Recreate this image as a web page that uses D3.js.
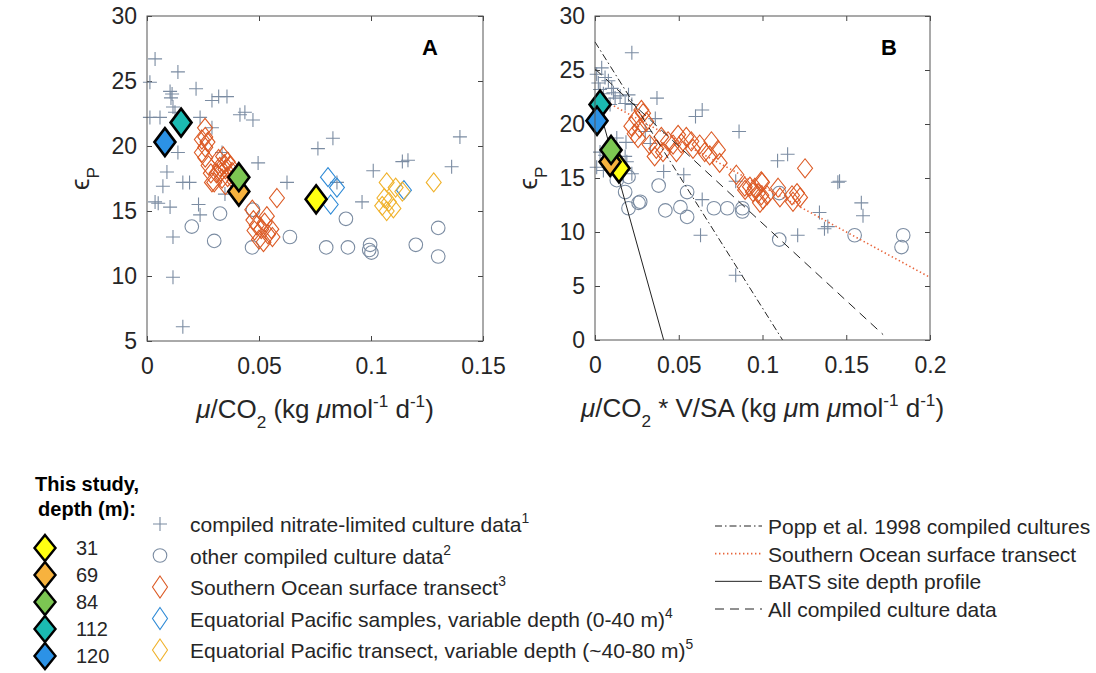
<!DOCTYPE html>
<meta charset="utf-8">
<style>
  body { margin: 0; background: #fff; }
  svg text { font-family: Arial, "Liberation Sans", Helvetica, sans-serif; fill: #262626; }
  .tick text { font-size: 23px; fill: #262626; }
  .tick line { stroke: #444; }
</style>
<script src="https://cdn.jsdelivr.net/npm/d3@7"></script>
<div id="chart"></div>
<script>

// ---- data ----

// panel A: mu/CO2 vs eps_p
var crossA = [[0.0036,26.7],[0.0138,25.7],[0.0013,24.9],[0.0103,24.2],[0.0112,24.0],[0.0107,23.7],
  [0.0116,23.0],[0.0125,22.6],[0.0219,24.4],[0.029,23.5],[0.032,23.8],[0.0357,23.8],[0.0415,22.4],
  [0.0437,22.6],[0.0473,22.0],[0.0013,22.2],[0.0058,22.2],[0.0237,22.2],[0.029,21.4],[0.0138,19.5],
  [0.0089,18.0],[0.0071,16.9],[0.016,17.2],[0.019,17.2],[0.0036,15.7],[0.005,15.6],[0.0103,15.3],
  [0.023,15.5],[0.0237,14.7],[0.0116,13.0],[0.0116,9.9],[0.016,6.1],[0.0348,16.3],[0.0496,18.7],
  [0.0625,17.2],[0.0763,19.8],[0.083,20.6],[0.0848,17.2],[0.096,15.7],[0.101,18.1],[0.114,18.8],
  [0.1165,18.9],[0.136,18.4],[0.1397,20.7],[0.0335,19.5]];
var circleA = [[0.020,13.8],[0.0326,14.8],[0.030,12.7],[0.0473,15.1],[0.0469,12.2],[0.0638,13.0],
  [0.080,12.2],[0.0888,14.4],[0.0897,12.2],[0.0996,12.4],[0.0992,12.0],[0.1002,11.8],[0.120,12.4],
  [0.130,13.7],[0.130,11.5]];
var southernA = [[0.0259,21.4],[0.026,20.7],[0.0245,20.5],[0.027,20.3],[0.026,19.9],[0.0245,19.5],
  [0.026,19.1],[0.0275,18.5],[0.0285,17.9],[0.029,17.2],[0.032,19.0],[0.034,19.2],[0.0325,18.4],
  [0.0345,18.6],[0.036,18.8],[0.031,17.9],[0.033,18.0],[0.035,18.2],[0.037,18.5],[0.0335,17.5],
  [0.036,17.6],[0.038,18.0],[0.030,17.2],[0.039,17.3],[0.035,17.0],[0.047,15.1],[0.0475,14.3],
  [0.049,13.9],[0.051,13.6],[0.0525,14.1],[0.048,13.5],[0.050,12.8],[0.054,13.2],[0.0555,13.6],
  [0.056,13.0],[0.052,12.6],[0.0535,14.6],[0.058,16.0]];
var eqSamplesA = [[0.0808,17.6],[0.0848,16.8],[0.082,15.5],[0.1147,16.6]];
var eqTransectA = [[0.107,17.2],[0.111,16.8],[0.114,16.5],[0.106,16.0],[0.108,15.7],[0.105,15.4],
  [0.107,15.0],[0.110,15.2],[0.128,17.2]];

// panel B: mu/CO2 * V/SA vs eps_p
var crossB = [[0.022,26.6],[0.001,24.6],[0.004,25.2],[0.006,24.3],[0.002,23.8],[0.008,24.0],
  [0.010,23.3],[0.005,22.8],[0.012,22.4],[0.003,23.2],[0.015,22.6],[0.009,21.8],[0.018,21.9],
  [0.022,21.8],[0.011,22.9],[0.020,22.7],[0.037,22.4],[0.036,20.5],[0.060,20.7],[0.064,21.3],
  [0.086,19.3],[0.109,16.6],[0.115,17.2],[0.145,14.6],[0.146,14.7],[0.159,12.7],[0.160,11.5],
  [0.134,11.8],[0.139,10.5],[0.137,10.3],[0.121,9.7],[0.063,9.7],[0.084,6.0],[0.041,15.6],
  [0.053,15.3],[0.064,13.0],[0.084,14.7],[0.003,17.4],[0.006,17.1],[0.001,16.0],[0.005,15.7],
  [0.018,17.0],[0.019,16.5],[0.015,16.0],[0.022,15.4],[0.033,18.2],[0.013,18.7],[0.030,19.3],
  [0.0185,18.3]];
var circleB = [[0.013,14.8],[0.020,15.1],[0.018,13.7],[0.020,12.2],[0.026,12.7],[0.027,12.8],
  [0.038,14.3],[0.042,12.0],[0.051,12.3],[0.055,11.4],[0.055,13.7],[0.071,12.2],[0.079,12.2],
  [0.088,12.2],[0.088,11.9],[0.110,13.6],[0.110,9.3],[0.155,9.7],[0.184,9.7],[0.183,8.6]];
var southernB = [[0.0277,21.3],[0.0247,20.5],[0.0217,19.8],[0.0237,19.1],[0.0267,19.6],[0.0306,20.2],
  [0.0287,21.0],[0.0257,18.7],[0.0326,18.1],[0.0366,17.7],[0.0356,17.0],[0.0406,17.4],[0.0436,18.4],
  [0.0466,18.1],[0.0496,19.0],[0.0515,18.2],[0.0545,18.8],[0.0575,18.4],[0.0585,17.7],[0.0625,18.1],
  [0.0655,17.4],[0.0695,18.4],[0.0685,17.1],[0.0734,17.6],[0.0744,16.4],[0.0396,18.8],[0.0486,17.4],
  [0.0844,15.3],[0.0894,14.2],[0.0943,13.7],[0.0993,14.7],[0.0993,13.4],[0.0896,13.9],[0.0925,14.2],
  [0.0955,14.1],[0.0997,14.6],[0.0973,13.6],[0.1003,13.0],[0.1027,13.4],[0.0985,12.7],[0.1093,14.1],
  [0.1104,13.2],[0.1176,13.4],[0.1206,13.6],[0.1224,13.2],[0.1182,12.8],[0.1254,15.9]];

// this study
var studyDepth = [31, 69, 84, 112, 120];
var studyEps = [15.9, 16.5, 17.6, 21.8, 20.3];
var studyXA = [0.0755, 0.041, 0.041, 0.0152, 0.008];
var studyXB = [0.0143, 0.009, 0.0096, 0.003, 0.0012];

// fitted lines in panel B (end points)
var linePopp = [[0, 27.6], [0.112, 0]];
var lineSouthern = [[0.005, 22.2], [0.2, 5.8]];
var lineBats = [[0.001, 22.3], [0.041, 0]];
var lineAll = [[0, 25.1], [0.172, 0.5]];

var xTicksA = [0, 0.05, 0.1, 0.15];
var xTicksB = [0, 0.05, 0.1, 0.15, 0.2];
var yTicksA = [5, 10, 15, 20, 25, 30];
var yTicksB = [0, 5, 10, 15, 20, 25, 30];

// ---- styles ----
var gray = "#7b8ca2", orange = "#dc5a24", blue = "#2e8ad6", gold = "#f0b22c";
var studyFill = ["#ffff12", "#f7b23e", "#7cc652", "#1bbab2", "#2c92e6"];

var W = 1096, H = 673;
var svg = d3.select("#chart").append("svg").attr("width", W).attr("height", H);

var crossPath = "M-7,0H7M0,-7V7";
var diamondPath = "M0,-9.5L7.5,0L0,9.5L-7.5,0Z";
var bigDiamond = "M0,-14L10.5,0L0,14L-10.5,0Z";

// rich text helper: parts = [{t, sub, sup, it}]
function rich(sel, parts, fs) {
  var shift = 0;
  parts.forEach(function(p) {
    var target = p.sub ? fs * 0.38 : (p.sup ? -fs * 0.42 : 0);
    var ts = sel.append("tspan").text(p.t).attr("dy", target - shift);
    if (p.sub || p.sup) ts.style("font-size", (fs * 0.66) + "px");
    if (p.it) ts.style("font-style", "italic");
    shift = target;
  });
}

function panel(opt) {
  var g = svg.append("g").attr("transform", "translate(" + opt.left + "," + opt.top + ")");
  var w = opt.width, h = opt.height;
  var x = d3.scaleLinear().domain(opt.xDomain).range([0, w]);
  var y = d3.scaleLinear().domain(opt.yDomain).range([h, 0]);

  g.append("g").attr("transform", "translate(0," + h + ")")
    .call(d3.axisBottom(x).tickValues(opt.xTicks).tickFormat(d3.format("")).tickSizeInner(-5).tickSizeOuter(0).tickPadding(17));
  g.append("g")
    .call(d3.axisTop(x).tickValues(opt.xTicks).tickFormat("").tickSizeInner(-5).tickSizeOuter(0));
  g.append("g")
    .call(d3.axisLeft(y).tickValues(opt.yTicks).tickFormat(d3.format("")).tickSizeInner(-5).tickSizeOuter(0).tickPadding(10));
  g.append("g").attr("transform", "translate(" + w + ",0)")
    .call(d3.axisRight(y).tickValues(opt.yTicks).tickFormat("").tickSizeInner(-5).tickSizeOuter(0));
  g.selectAll(".domain").remove();

  var marks = g.append("g");
  marks.selectAll(".cross").data(opt.cross).enter().append("path")
    .attr("d", crossPath).attr("transform", function(d) { return "translate(" + x(d[0]) + "," + y(d[1]) + ")"; })
    .attr("fill", "none").attr("stroke", gray).attr("stroke-width", 1.1);
  marks.selectAll(".circ").data(opt.circle).enter().append("circle")
    .attr("cx", function(d) { return x(d[0]); }).attr("cy", function(d) { return y(d[1]); }).attr("r", 6.8)
    .attr("fill", "none").attr("stroke", gray).attr("stroke-width", 1.1);
  [[opt.southern, orange], [opt.eqSamples, blue], [opt.eqTransect, gold]].forEach(function(s) {
    marks.append("g").selectAll("path").data(s[0]).enter().append("path")
      .attr("d", diamondPath).attr("transform", function(d) { return "translate(" + x(d[0]) + "," + y(d[1]) + ")"; })
      .attr("fill", "none").attr("stroke", s[1]).attr("stroke-width", 1.1);
  });

  var line = d3.line().x(function(d) { return x(d[0]); }).y(function(d) { return y(d[1]); });
  (opt.lines || []).forEach(function(l) {
    g.append("path").datum(l.data).attr("d", line).attr("fill", "none")
      .attr("stroke", l.color).attr("stroke-width", l.width).attr("stroke-dasharray", l.dash);
  });

  g.selectAll(".study").data(studyDepth).enter().append("path")
    .attr("d", bigDiamond)
    .attr("transform", function(d, i) { return "translate(" + x(opt.studyX[i]) + "," + y(studyEps[i]) + ")"; })
    .attr("fill", function(d, i) { return studyFill[i]; })
    .attr("stroke", "#000").attr("stroke-width", 2.6).attr("stroke-linejoin", "miter");

  g.append("rect").attr("width", w).attr("height", h).attr("fill", "none").attr("stroke", "#555").attr("stroke-width", 1);

  g.append("text").attr("x", opt.letterX).attr("y", 39).attr("font-size", 22).attr("font-weight", "bold")
    .attr("text-anchor", "middle").style("fill", "#000").text(opt.letter);

  var xl = g.append("text").attr("x", w / 2).attr("y", h + 77).attr("text-anchor", "middle").style("font-size", "26px");
  rich(xl, opt.xLabel, 26);

  var yl = g.append("text").attr("transform", "translate(-58," + (h / 2) + ") rotate(-90)")
    .attr("text-anchor", "middle").style("font-size", "26px");
  rich(yl, [{t: "\u03f5"}, {t: "P", sub: true}], 26);
}

panel({
  left: 147, top: 16, width: 336, height: 325,
  xDomain: [0, 0.15], yDomain: [5, 30], xTicks: xTicksA, yTicks: yTicksA,
  cross: crossA, circle: circleA, southern: southernA, eqSamples: eqSamplesA, eqTransect: eqTransectA,
  studyX: studyXA, letter: "A", letterX: 283,
  xLabel: [{t: "\u03bc", it: true}, {t: "/CO"}, {t: "2", sub: true}, {t: " (kg "}, {t: "\u03bc", it: true},
    {t: "mol"}, {t: "-1", sup: true}, {t: " d"}, {t: "-1", sup: true}, {t: ")"}]
});

panel({
  left: 595, top: 16, width: 335, height: 324,
  xDomain: [0, 0.2], yDomain: [0, 30], xTicks: xTicksB, yTicks: yTicksB,
  cross: crossB, circle: circleB, southern: southernB, eqSamples: [], eqTransect: [],
  studyX: studyXB, letter: "B", letterX: 294,
  lines: [
    {data: linePopp, color: "#222", width: 1, dash: "7,3,1.5,3"},
    {data: lineSouthern, color: "#e8643a", width: 1.6, dash: "1.4,2.6"},
    {data: lineBats, color: "#222", width: 1, dash: null},
    {data: lineAll, color: "#222", width: 1, dash: "9,6"}
  ],
  xLabel: [{t: "\u03bc", it: true}, {t: "/CO"}, {t: "2", sub: true}, {t: " * V/SA (kg "}, {t: "\u03bc", it: true},
    {t: "m "}, {t: "\u03bc", it: true}, {t: "mol"}, {t: "-1", sup: true}, {t: " d"}, {t: "-1", sup: true}, {t: ")"}]
});

// ---- legends ----
var leg1 = svg.append("g");
leg1.append("text").attr("x", 87).attr("y", 491).attr("text-anchor", "middle")
  .attr("font-weight", "bold").attr("font-size", 20).style("fill", "#000").text("This study,");
leg1.append("text").attr("x", 87).attr("y", 516).attr("text-anchor", "middle")
  .attr("font-weight", "bold").attr("font-size", 20).style("fill", "#000").text("depth (m):");
var rowY1 = d3.scalePoint().domain(studyDepth).range([548, 656]);
studyDepth.forEach(function(d, i) {
  leg1.append("path").attr("d", "M0,-13L10.5,0L0,13L-10.5,0Z")
    .attr("transform", "translate(45," + rowY1(d) + ")")
    .attr("fill", studyFill[i]).attr("stroke", "#000").attr("stroke-width", 2.4);
  leg1.append("text").attr("x", 76).attr("y", rowY1(d) + 7).attr("font-size", 20).text(d);
});

var leg2Items = [
  {label: "compiled nitrate-limited culture data", sup: "1"},
  {label: "other compiled culture data", sup: "2"},
  {label: "Southern Ocean surface transect", sup: "3"},
  {label: "Equatorial Pacific samples, variable depth (0-40 m)", sup: "4"},
  {label: "Equatorial Pacific transect, variable depth (~40-80 m)", sup: "5"}
];
var rowY2 = d3.scalePoint().domain(d3.range(leg2Items.length)).range([524, 650]);
var leg2 = svg.append("g");
leg2Items.forEach(function(it, i) {
  var gy = rowY2(i);
  var m = leg2.append("g").attr("transform", "translate(160," + gy + ")");
  if (i === 0) m.append("path").attr("d", crossPath).attr("stroke", gray).attr("stroke-width", 1.1).attr("fill", "none");
  else if (i === 1) m.append("circle").attr("r", 6.8).attr("stroke", gray).attr("stroke-width", 1.1).attr("fill", "none");
  else m.append("path").attr("d", "M0,-11L7.5,0L0,11L-7.5,0Z").attr("fill", "none").attr("stroke-width", 1.1)
    .attr("stroke", [orange, blue, gold][i - 2]);
  var t = leg2.append("text").attr("x", 190).attr("y", gy + 8).style("font-size", "21px");
  rich(t, [{t: it.label}, {t: it.sup, sup: true}], 21);
});

var leg3Items = [
  {label: "Popp et al. 1998 compiled cultures", color: "#222", dash: "7,3,1.5,3", width: 1},
  {label: "Southern Ocean surface transect", color: "#e8643a", dash: "1.4,2.6", width: 1.6},
  {label: "BATS site depth profile", color: "#222", dash: null, width: 1},
  {label: "All compiled culture data", color: "#222", dash: "9,6", width: 1}
];
var rowY3 = d3.scalePoint().domain(d3.range(leg3Items.length)).range([526, 609]);
var leg3 = svg.append("g");
leg3Items.forEach(function(it, i) {
  var gy = rowY3(i);
  leg3.append("line").attr("x1", 715).attr("x2", 762).attr("y1", gy).attr("y2", gy)
    .attr("stroke", it.color).attr("stroke-width", it.width).attr("stroke-dasharray", it.dash);
  leg3.append("text").attr("x", 768).attr("y", gy + 8).attr("font-size", 21).text(it.label);
});

</script>
